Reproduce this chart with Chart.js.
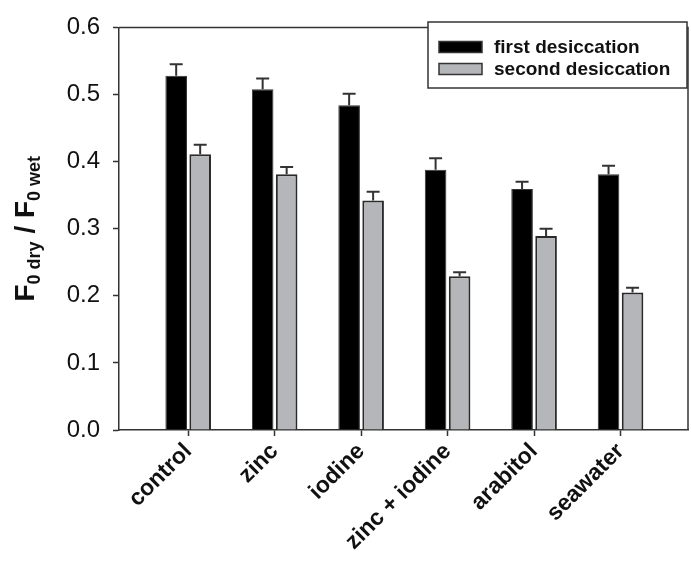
<!DOCTYPE html>
<html>
<head>
<meta charset="utf-8">
<script src="https://cdn.jsdelivr.net/npm/chart.js@4.4.0/dist/chart.umd.min.js"></script>
<style>
  html, body { margin: 0; padding: 0; background: #fff; }
  #wrap { width: 691px; height: 570px; }
</style>
</head>
<body>
<div id="wrap"><canvas id="chart" width="691" height="570"></canvas></div>
<script>
// data
var categories = ['control', 'zinc', 'iodine', 'zinc + iodine', 'arabitol', 'seawater'];
var seriesNames = ['first desiccation', 'second desiccation'];
var firstVals = [0.528, 0.508, 0.484, 0.388, 0.359, 0.381];
var firstErr = [0.017, 0.016, 0.017, 0.017, 0.011, 0.013];
var secondVals = [0.411, 0.381, 0.342, 0.229, 0.289, 0.205];
var secondErr = [0.014, 0.011, 0.013, 0.006, 0.011, 0.007];
var yTicks = [0.0, 0.1, 0.2, 0.3, 0.4, 0.5, 0.6];

var AXIS = '#333333';
var FONT = "Arial, 'Liberation Sans', sans-serif";

function toPoints(vals) {
    return vals.map(function (v, i) { return { x: i + 1, y: v }; });
}

// error bars, only the upper half shows above each bar
var errorBars = {
    id: 'errorBars',
    afterDatasetsDraw: function (chart) {
        var ctx = chart.ctx;
        var yScale = chart.scales.y;
        var errs = [firstErr, secondErr];
        ctx.save();
        ctx.strokeStyle = AXIS;
        ctx.lineWidth = 2;
        chart.data.datasets.forEach(function (ds, di) {
            var meta = chart.getDatasetMeta(di);
            meta.data.forEach(function (bar, i) {
                var top = yScale.getPixelForValue(ds.data[i].y + errs[di][i]);
                ctx.beginPath();
                ctx.moveTo(bar.x, bar.y);
                ctx.lineTo(bar.x, top);
                ctx.moveTo(bar.x - 6.5, top);
                ctx.lineTo(bar.x + 6.5, top);
                ctx.stroke();
            });
        });
        ctx.restore();
    }
};

// frame, legend box and the y title with subscripts
var decorations = {
    id: 'decorations',
    afterDraw: function (chart) {
        var ctx = chart.ctx;
        var a = chart.chartArea;
        ctx.save();
        ctx.strokeStyle = AXIS;
        ctx.lineWidth = 1.5;
        ctx.beginPath();
        ctx.moveTo(a.left, a.top);
        ctx.lineTo(a.right, a.top);
        ctx.lineTo(a.right, a.bottom);
        ctx.stroke();

        // legend
        var lx = 428, ly = 22, lw = 259, lh = 66;
        ctx.fillStyle = '#fff';
        ctx.fillRect(lx, ly, lw, lh);
        ctx.strokeRect(lx, ly, lw, lh);
        ctx.font = 'bold 19px ' + FONT;
        ctx.textBaseline = 'middle';
        chart.data.datasets.forEach(function (ds, di) {
            var cy = 47 + di * 22;
            ctx.fillStyle = ds.backgroundColor;
            ctx.fillRect(439, cy - 5.5, 43, 11);
            ctx.lineWidth = 1.5;
            ctx.strokeStyle = AXIS;
            ctx.strokeRect(439, cy - 5.5, 43, 11);
            ctx.fillStyle = '#111';
            ctx.fillText(ds.label, 494, cy + 1);
        });

        // y axis title: F0 dry / F0 wet
        var parts = [
            { t: 'F', size: 28, dy: 0 },
            { t: '0 dry', size: 18, dy: 6 },
            { t: ' / F', size: 28, dy: 0 },
            { t: '0 wet', size: 18, dy: 6 }
        ];
        var total = 0;
        parts.forEach(function (p) {
            ctx.font = 'bold ' + p.size + 'px ' + FONT;
            p.w = ctx.measureText(p.t).width;
            total += p.w;
        });
        ctx.translate(34, (a.top + a.bottom) / 2);
        ctx.rotate(-Math.PI / 2);
        ctx.fillStyle = '#111';
        ctx.textBaseline = 'alphabetic';
        var x = -total / 2;
        parts.forEach(function (p) {
            ctx.font = 'bold ' + p.size + 'px ' + FONT;
            ctx.fillText(p.t, x, p.dy);
            x += p.w;
        });
        ctx.restore();
    }
};

new Chart(document.getElementById('chart'), {
    type: 'bar',
    data: {
        datasets: [
            {
                label: seriesNames[0],
                data: toPoints(firstVals),
                backgroundColor: '#000000',
                borderColor: '#333333',
                borderWidth: 1
            },
            {
                label: seriesNames[1],
                data: toPoints(secondVals),
                backgroundColor: '#b5b6b9',
                borderColor: '#2a2a2a',
                borderWidth: 2
            }
        ]
    },
    options: {
        responsive: false,
        animation: false,
        categoryPercentage: 0.555,
        barPercentage: 0.9,
        layout: { padding: { left: 0, right: 3, top: 19, bottom: 0 } },
        plugins: {
            legend: { display: false },
            tooltip: { enabled: false }
        },
        scales: {
            x: {
                type: 'linear',
                offset: false,
                min: 0.2,
                max: 6.78,
                afterFit: function (s) { s.height = 140; },
                afterBuildTicks: function (s) {
                    s.ticks = categories.map(function (c, i) { return { value: i + 1 }; });
                },
                grid: { drawOnChartArea: false, offset: false, tickLength: 6, color: AXIS, tickWidth: 1.5 },
                border: { display: true, color: AXIS, width: 1.5 },
                ticks: {
                    autoSkip: false,
                    minRotation: 45,
                    maxRotation: 45,
                    padding: 2,
                    color: '#111',
                    font: { family: FONT, size: 23, weight: 'bold' },
                    callback: function (v) { return categories[v - 1] || ''; }
                }
            },
            y: {
                min: 0,
                max: 0.6,
                afterFit: function (s) { s.width = 119; },
                afterBuildTicks: function (s) {
                    s.ticks = yTicks.map(function (v) { return { value: v }; });
                },
                grid: { drawOnChartArea: false, tickLength: 6, color: AXIS, tickWidth: 1.5 },
                border: { display: true, color: AXIS, width: 1.5 },
                ticks: {
                    padding: 13,
                    color: '#111',
                    font: { family: FONT, size: 24 },
                    callback: function (v) { return Number(v).toFixed(1); }
                }
            }
        }
    },
    plugins: [errorBars, decorations]
});
</script>
</body>
</html>
